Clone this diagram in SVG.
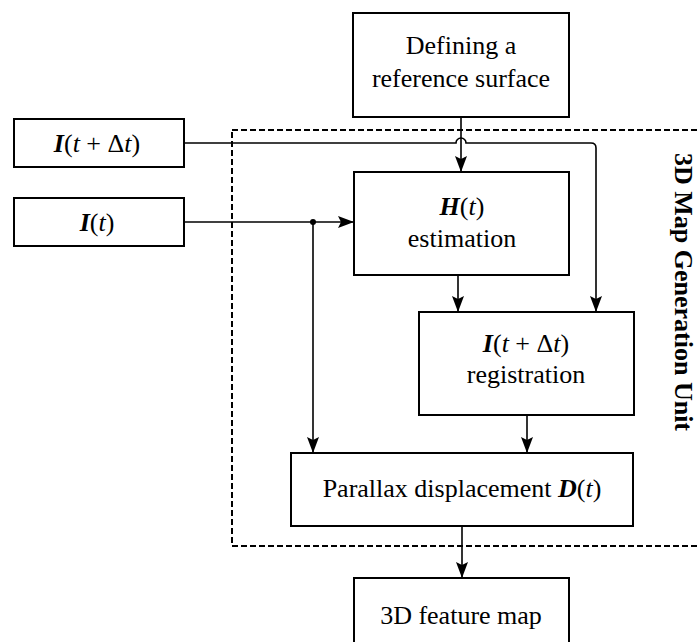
<svg xmlns="http://www.w3.org/2000/svg" width="697" height="642" viewBox="0 0 697 642" font-family="Liberation Serif" font-size="26">
  <style>
    .box { fill: #fff; stroke: #000; stroke-width: 2; }
    .lbl { fill: #000; text-anchor: middle; }
    .mb { font-weight: bold; font-style: italic; }
    .mi { font-style: italic; }
    .wire { fill: none; stroke: #000; stroke-width: 1.6; }
    .unit { fill: none; stroke: #000; stroke-width: 2; stroke-dasharray: 6 3; }
    .title { font-weight: bold; }
  </style>
  <defs>
    <marker id="arrow" viewBox="0 0 16 12" refX="16" refY="6" markerWidth="16" markerHeight="12" orient="auto" markerUnits="userSpaceOnUse">
      <path d="M0,0 L16,6 L0,12 L3,6 z" fill="#000"/>
    </marker>
  </defs>
  <rect width="697" height="642" fill="#fff"/>

  <!-- 3D map generation unit frame -->
  <g id="unit">
    <rect class="unit" x="232" y="130" width="470" height="416"/>
    <text class="lbl title" font-family="Liberation Serif" transform="translate(675,292) rotate(90)">3D Map Generation Unit</text>
  </g>

  <!-- connectors -->
  <g id="connectors">
    <path class="wire" d="M184,143 H456 A5,5 0 0 1 466,143 H591 Q596,143 596,148 V312" marker-end="url(#arrow)"/>
    <path class="wire" d="M461,117 V172" marker-end="url(#arrow)"/>
    <path class="wire" d="M184,222 H354" marker-end="url(#arrow)"/>
    <path class="wire" d="M313,222 V453" marker-end="url(#arrow)"/>
    <circle cx="313" cy="222" r="3" fill="#000"/>
    <path class="wire" d="M458,275 V312" marker-end="url(#arrow)"/>
    <path class="wire" d="M527,415 V453" marker-end="url(#arrow)"/>
    <path class="wire" d="M462,526 V578" marker-end="url(#arrow)"/>
  </g>

  <g id="ref-surface">
    <rect class="box" x="353" y="13" width="216" height="104"/>
    <text class="lbl" font-family="Liberation Serif" x="461" y="54">Defining a</text>
    <text class="lbl" font-family="Liberation Serif" x="461" y="87">reference surface</text>
  </g>

  <g id="img-next">
    <rect class="box" x="14" y="119" width="170" height="48"/>
    <text class="lbl" font-family="Liberation Serif" x="97" y="152"><tspan class="mb">I</tspan>(<tspan class="mi">t</tspan> + Δ<tspan class="mi">t</tspan>)</text>
  </g>

  <g id="img-now">
    <rect class="box" x="14" y="198" width="170" height="48"/>
    <text class="lbl" font-family="Liberation Serif" x="97" y="231"><tspan class="mb">I</tspan>(<tspan class="mi">t</tspan>)</text>
  </g>

  <g id="h-estimation">
    <rect class="box" x="354" y="172" width="215" height="103"/>
    <text class="lbl" font-family="Liberation Serif" x="462" y="215"><tspan class="mb">H</tspan>(<tspan class="mi">t</tspan>)</text>
    <text class="lbl" font-family="Liberation Serif" x="462" y="247">estimation</text>
  </g>

  <g id="registration">
    <rect class="box" x="419" y="312" width="215" height="103"/>
    <text class="lbl" font-family="Liberation Serif" x="526" y="352"><tspan class="mb">I</tspan>(<tspan class="mi">t</tspan> + Δ<tspan class="mi">t</tspan>)</text>
    <text class="lbl" font-family="Liberation Serif" x="526" y="383">registration</text>
  </g>

  <g id="parallax">
    <rect class="box" x="291" y="453" width="342" height="73"/>
    <text class="lbl" font-family="Liberation Serif" x="462" y="497">Parallax displacement <tspan class="mb">D</tspan>(<tspan class="mi">t</tspan>)</text>
  </g>

  <g id="feature-map">
    <rect class="box" x="354" y="578" width="215" height="74"/>
    <text class="lbl" font-family="Liberation Serif" x="461" y="624">3D feature map</text>
  </g>
</svg>
